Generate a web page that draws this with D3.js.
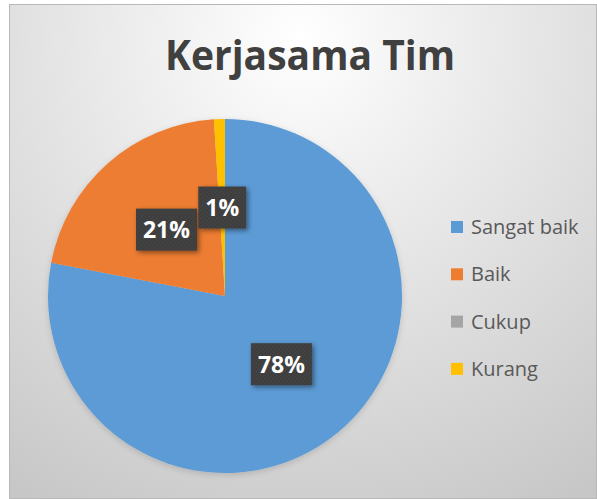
<!DOCTYPE html>
<html>
<head>
<meta charset="utf-8">
<script src="https://cdn.jsdelivr.net/npm/d3@7"></script>
<style>
  body { margin: 0; background: #fff; }
  svg { display: block; }
</style>
</head>
<body>
<svg width="597" height="499"></svg>
<script>
var categories = ['Sangat baik', 'Baik', 'Cukup', 'Kurang'];
var values = [78, 21, 0, 1];
var colors = ['#5B9BD5', '#ED7D31', '#A5A5A5', '#FFC000'];
var title = 'Kerjasama Tim';

var svg = d3.select('svg'),
  width = +svg.attr('width'),
  height = +svg.attr('height');

var defs = svg.append('defs');

// background gradient of the chart area
var bg = defs.append('radialGradient')
  .attr('id', 'bg')
  .attr('gradientUnits', 'userSpaceOnUse')
  .attr('cx', 300).attr('cy', 40).attr('r', 560);
bg.append('stop').attr('offset', '0%').attr('stop-color', '#ffffff');
bg.append('stop').attr('offset', '25%').attr('stop-color', '#f0f0f0');
bg.append('stop').attr('offset', '100%').attr('stop-color', '#c4c4c4');

// dotted texture for the data label boxes
var pat = defs.append('pattern')
  .attr('id', 'dots')
  .attr('patternUnits', 'userSpaceOnUse')
  .attr('width', 4).attr('height', 4);
pat.append('rect').attr('width', 4).attr('height', 4).attr('fill', '#3a3a3a');
pat.append('circle').attr('cx', 1).attr('cy', 1).attr('r', 0.8).attr('fill', '#525252');
pat.append('circle').attr('cx', 3).attr('cy', 3).attr('r', 0.8).attr('fill', '#525252');

var shadow = defs.append('filter').attr('id', 'shadow')
  .attr('x', '-30%').attr('y', '-30%').attr('width', '160%').attr('height', '160%');
shadow.append('feDropShadow')
  .attr('dx', 2).attr('dy', 2).attr('stdDeviation', 2.5)
  .attr('flood-color', '#000').attr('flood-opacity', 0.45);

var pieShadow = defs.append('filter').attr('id', 'pieShadow')
  .attr('x', '-20%').attr('y', '-20%').attr('width', '140%').attr('height', '140%');
pieShadow.append('feDropShadow')
  .attr('dx', 0).attr('dy', 2).attr('stdDeviation', 3)
  .attr('flood-color', '#000').attr('flood-opacity', 0.15);

// chart area
svg.append('rect')
  .attr('x', 9.5).attr('y', 4.5)
  .attr('width', width - 10).attr('height', height - 5)
  .attr('fill', 'url(#bg)')
  .attr('stroke', '#b8b8b8');

// title
svg.append('text')
  .attr('x', 310)
  .attr('y', 70)
  .attr('text-anchor', 'middle')
  .attr('textLength', 290)
  .attr('lengthAdjust', 'spacingAndGlyphs')
  .style('font-family', 'Open Sans, sans-serif')
  .style('font-weight', 'bold')
  .style('font-size', '42px')
  .style('fill', '#404040')
  .text(title);

// pie
var cx = 225, cy = 296, radius = 177;
var data = categories.map(function (c, i) {
  return { name: c, value: values[i], color: colors[i] };
});

var pie = d3.pie()
  .sort(null)
  .value(function (d) { return d.value; });

var arc = d3.arc().innerRadius(0).outerRadius(radius);

var arcs = pie(data);

var g = svg.append('g')
  .attr('transform', 'translate(' + cx + ',' + cy + ')');

g.append('g')
  .attr('filter', 'url(#pieShadow)')
  .selectAll('path')
  .data(arcs)
  .enter()
  .append('path')
  .attr('d', arc)
  .attr('fill', function (d) { return d.data.color; });

// data labels
var labels = g.selectAll('g.label')
  .data(arcs.filter(function (d) { return d.data.value > 0; }))
  .enter()
  .append('g')
  .attr('class', 'label')
  .attr('transform', function (d) {
    var c = arc.centroid(d);
    return 'translate(' + c[0] + ',' + c[1] + ')';
  });

labels.each(function (d) {
  var lg = d3.select(this);
  var txt = lg.append('text')
    .attr('text-anchor', 'middle')
    .attr('dy', '0.37em')
    .style('font-family', 'Open Sans, sans-serif')
    .style('font-weight', 'bold')
    .style('font-size', '23px')
    .style('fill', '#fff')
    .text(d.data.value + '%');
  var w = txt.node().getComputedTextLength() + 14;
  var h = 42;
  lg.insert('rect', 'text')
    .attr('x', -w / 2).attr('y', -h / 2)
    .attr('width', w).attr('height', h)
    .attr('fill', 'url(#dots)')
    .attr('filter', 'url(#shadow)');
});

// legend
var legend = svg.append('g')
  .attr('transform', 'translate(451,227)');

var item = legend.selectAll('g')
  .data(data)
  .enter()
  .append('g')
  .attr('transform', function (d, i) { return 'translate(0,' + i * 47.3 + ')'; });

item.append('rect')
  .attr('x', 0).attr('y', -6)
  .attr('width', 12).attr('height', 12)
  .attr('fill', function (d) { return d.color; });

item.append('text')
  .attr('x', 20)
  .attr('dy', '0.35em')
  .style('font-family', 'Open Sans, sans-serif')
  .style('font-size', '20px')
  .style('fill', '#595959')
  .text(function (d) { return d.name; });
</script>
</body>
</html>
